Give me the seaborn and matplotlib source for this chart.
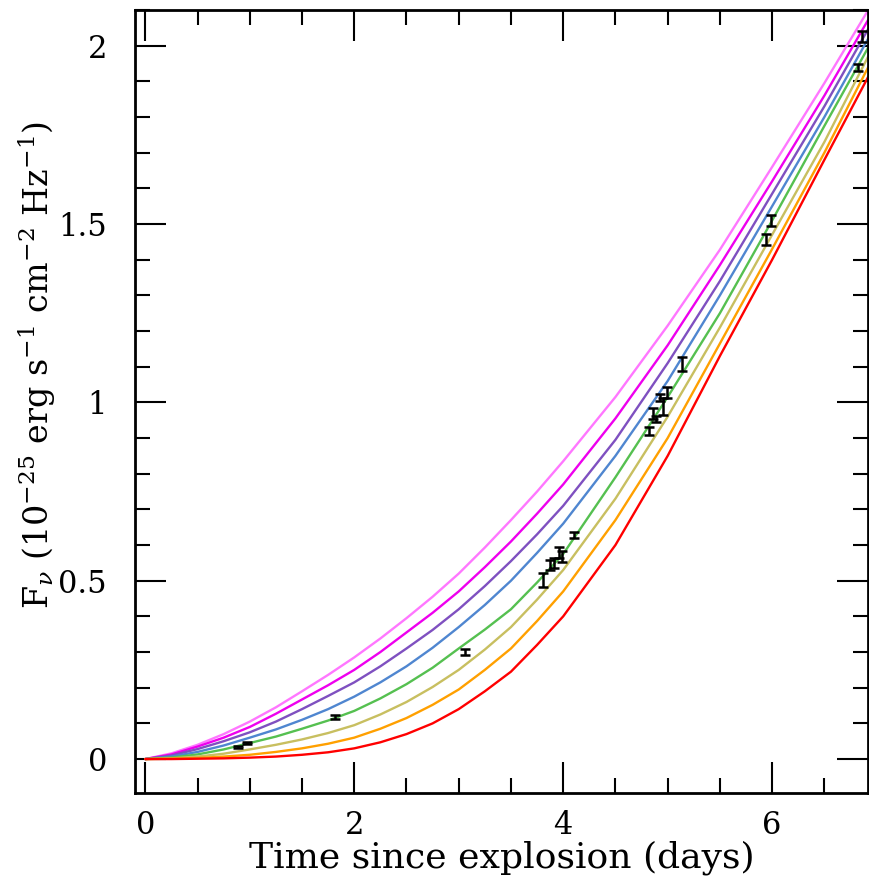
import numpy as np
import pandas as pd
import seaborn as sns
import matplotlib.pyplot as plt
from matplotlib.ticker import MultipleLocator

# model curves at fixed times
t_grid = [0, 0.25, 0.5, 0.75, 1, 1.25, 1.5, 1.75, 2, 2.25, 2.5, 2.75, 3, 3.25, 3.5, 3.75, 4,
          4.5, 5, 5.5, 6, 6.5, 6.92]
f_violet = [0, 0.016, 0.040, 0.070, 0.105, 0.145, 0.190, 0.236, 0.285, 0.338, 0.395, 0.455, 0.520,
            0.593, 0.670, 0.750, 0.835, 1.015, 1.215, 1.428, 1.660, 1.895, 2.100]
f_magenta = [0, 0.013, 0.035, 0.060, 0.090, 0.127, 0.167, 0.207, 0.250, 0.300, 0.355, 0.410, 0.470,
             0.538, 0.610, 0.688, 0.770, 0.955, 1.160, 1.385, 1.620, 1.860, 2.073]
f_purple = [0, 0.010, 0.028, 0.050, 0.075, 0.105, 0.140, 0.177, 0.215, 0.260, 0.310, 0.362, 0.420,
            0.485, 0.555, 0.630, 0.710, 0.895, 1.110, 1.340, 1.585, 1.830, 2.047]
f_blue = [0, 0.007, 0.020, 0.038, 0.060, 0.083, 0.110, 0.140, 0.175, 0.215, 0.260, 0.312, 0.370,
          0.432, 0.500, 0.578, 0.660, 0.850, 1.060, 1.300, 1.550, 1.800, 2.020]
f_green = [0, 0.004, 0.013, 0.027, 0.045, 0.063, 0.085, 0.108, 0.135, 0.170, 0.210, 0.256, 0.310,
           0.363, 0.420, 0.495, 0.575, 0.790, 1.015, 1.250, 1.510, 1.775, 1.995]
f_olive = [0, 0.002, 0.007, 0.015, 0.027, 0.040, 0.055, 0.073, 0.095, 0.125, 0.160, 0.202, 0.250,
           0.307, 0.370, 0.447, 0.530, 0.730, 0.960, 1.210, 1.470, 1.730, 1.970]
f_orange = [0, 0.001, 0.003, 0.007, 0.012, 0.020, 0.030, 0.043, 0.060, 0.085, 0.115, 0.152, 0.195,
            0.250, 0.310, 0.387, 0.470, 0.670, 0.900, 1.165, 1.430, 1.700, 1.940]
f_red = [0, 0.000, 0.001, 0.002, 0.004, 0.007, 0.012, 0.019, 0.030, 0.047, 0.070, 0.100, 0.140,
         0.190, 0.245, 0.320, 0.400, 0.600, 0.850, 1.130, 1.400, 1.680, 1.913]

models = ["violet", "magenta", "purple", "blue", "green", "olive", "orange", "red"]
colors = ["#ff77ff", "#ee00ee", "#7f50c0", "#4f86d0", "#55c050", "#c8bf60", "#ffa000", "#ff0000"]

# observed points
obs_t = [0.89, 0.976, 1.82, 3.06, 3.81, 3.87, 3.91, 3.96, 3.99, 4.105,
         4.82, 4.86, 4.89, 4.93, 4.96, 4.995, 5.135, 5.94, 5.99, 6.82, 6.86]
obs_f = [0.034, 0.045, 0.118, 0.300, 0.502, 0.544, 0.550, 0.580, 0.567, 0.628,
         0.920, 0.968, 0.953, 1.013, 0.988, 1.027, 1.108, 1.456, 1.510, 1.938, 2.025]
obs_err = [0.002, 0.002, 0.006, 0.008, 0.02, 0.015, 0.015, 0.015, 0.015, 0.008,
           0.012, 0.015, 0.008, 0.01, 0.023, 0.015, 0.02, 0.015, 0.015, 0.01, 0.015]

curves = [f_violet, f_magenta, f_purple, f_blue, f_green, f_olive, f_orange, f_red]
df = pd.concat([pd.DataFrame({"t": t_grid, "F": f, "model": m}) for m, f in zip(models, curves)])

sns.set_style("ticks")
plt.rcParams["font.family"] = ["DejaVu Serif"]
plt.rcParams["mathtext.fontset"] = "dejavuserif"
plt.rcParams["axes.edgecolor"] = "black"
plt.rcParams["xtick.color"] = "black"
plt.rcParams["ytick.color"] = "black"
plt.rcParams["text.color"] = "black"
plt.rcParams["axes.labelcolor"] = "black"

fig = plt.figure(figsize=(8.7, 8.84), dpi=100)
ax = fig.add_axes([0.155, 0.103, 0.843, 0.8857])

sns.lineplot(data=df, x="t", y="F", hue="model", hue_order=models,
             palette=colors, linewidth=1.7, legend=False, ax=ax, sort=False)
ax.errorbar(obs_t, obs_f, yerr=obs_err, fmt="none", ecolor="black",
            elinewidth=1.8, capsize=3.5, capthick=1.8, zorder=5)

ax.set_xlim(-0.1, 6.92)
ax.set_ylim(-0.095, 2.1)
ax.xaxis.set_major_locator(MultipleLocator(2))
ax.xaxis.set_minor_locator(MultipleLocator(0.5))
ax.yaxis.set_major_locator(MultipleLocator(0.5))
ax.yaxis.set_minor_locator(MultipleLocator(0.1))
ax.xaxis.set_major_formatter(plt.FuncFormatter(lambda v, p: f"{v:g}"))
ax.yaxis.set_major_formatter(plt.FuncFormatter(lambda v, p: f"{v:g}"))
ax.tick_params(which="both", direction="in", top=True, right=True, width=1.5, labelsize=22)
ax.tick_params(axis="y", pad=20)
ax.tick_params(axis="x", pad=12)
ax.tick_params(which="major", length=22)
ax.tick_params(which="minor", length=11)
for s in ax.spines.values():
    s.set_linewidth(2)

ax.set_xlabel("Time since explosion (days)", fontsize=26, labelpad=0)
ax.set_ylabel(r"F$_\nu$ (10$^{-25}$ erg s$^{-1}$ cm$^{-2}$ Hz$^{-1}$)", fontsize=24)
ax.yaxis.set_label_coords(-0.105, 0.547)

plt.savefig("out.png", dpi=100)
